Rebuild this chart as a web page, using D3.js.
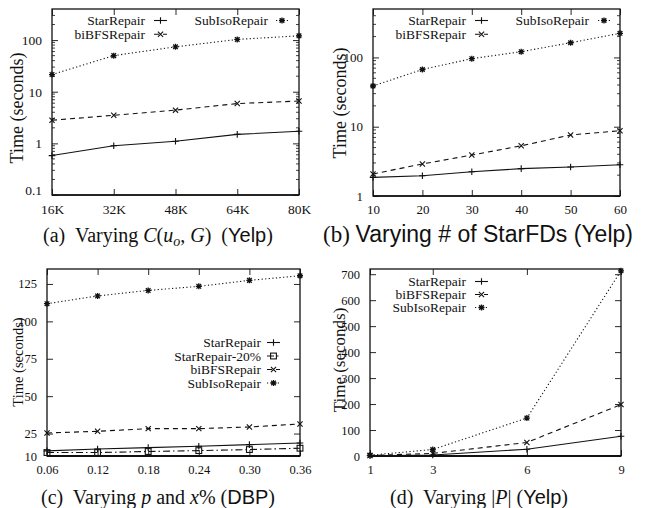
<!DOCTYPE html>
<html><head><meta charset="utf-8">
<script src="https://cdn.jsdelivr.net/npm/d3@7"></script>
<style>body{margin:0;background:#fff}svg{display:block}</style>
</head><body>
<svg id="c" width="647" height="508"></svg>
<script>
// ---------- data ----------
const aX = [16, 32, 48, 64, 80];
const aXLabels = ["16K","32K","48K","64K","80K"];
const aStar = [0.58, 0.9, 1.1, 1.49, 1.72];
const aBiBFS = [2.8, 3.5, 4.4, 5.9, 6.6];
const aSubIso = [21.5, 50, 74, 103, 121];
const aYTicks = [0.1, 1, 10, 100];

const bX = [10, 20, 30, 40, 50, 60];
const bStar = [1.86, 1.96, 2.24, 2.48, 2.62, 2.83];
const bBiBFS = [2.08, 2.9, 3.9, 5.3, 7.6, 8.75];
const bSubIso = [38.7, 67, 96, 121, 163, 223];
const bYTicks = [1, 10, 100];

const cX = [0.06, 0.12, 0.18, 0.24, 0.30, 0.36];
const cXLabels = ["0.06","0.12","0.18","0.24","0.30","0.36"];
const cStar = [13.4, 14.7, 15.6, 16.5, 17.6, 18.7];
const cStar20 = [12.3, 12.3, 13.0, 13.6, 14.3, 15.2];
const cBiBFS = [25.4, 26.5, 28.3, 28.3, 29.4, 31.4];
const cSubIso = [111.8, 117, 120.7, 123.4, 127.4, 130.5];
const cYTicks = [10, 25, 50, 75, 100, 125];

const dX = [1, 3, 6, 9];
const dStar = [1, 4, 26, 76];
const dBiBFS = [2, 10, 52, 198];
const dSubIso = [3, 25, 146, 713];
const dYTicks = [0, 100, 200, 300, 400, 500, 600, 700];

// ---------- drawing ----------
const svg = d3.select("#c");
const SERIF = "'Liberation Serif','Times New Roman',serif";
const SANS = "'Liberation Sans',Arial,sans-serif";
const INK = "#111";

const styles = {
  star:   {dash: null,        marker: "plus"},
  star20: {dash: "7,3,1.5,3", marker: "square"},
  bibfs:  {dash: "5,4",       marker: "cross"},
  subiso: {dash: "1.2,2.4",   marker: "asterisk"}
};

function marker(g, type, x, y) {
  const p = d3.path();
  if (type === "plus") {
    const s = 3.3;
    p.moveTo(x - s, y); p.lineTo(x + s, y);
    p.moveTo(x, y - s); p.lineTo(x, y + s);
  }
  if (type === "cross") {
    const t = 2.6;
    p.moveTo(x - t, y - t); p.lineTo(x + t, y + t);
    p.moveTo(x - t, y + t); p.lineTo(x + t, y - t);
  }
  if (type === "asterisk") {
    const s = 3, t = 2.3;
    p.moveTo(x - s, y); p.lineTo(x + s, y);
    p.moveTo(x, y - s); p.lineTo(x, y + s);
    p.moveTo(x - t, y - t); p.lineTo(x + t, y + t);
    p.moveTo(x - t, y + t); p.lineTo(x + t, y - t);
  }
  if (type === "square") {
    g.append("rect").attr("x", x - 2.9).attr("y", y - 2.9).attr("width", 5.8).attr("height", 5.8)
      .attr("fill", "none").attr("stroke", INK).attr("stroke-width", 1.1);
    return;
  }
  g.append("path").attr("d", p.toString()).attr("stroke", INK).attr("stroke-width", type === "asterisk" ? 1.3 : 1.1).attr("fill", "none");
}

function panel(cfg) {
  const g = svg.append("g");
  const {L, R, T, B} = cfg.box;
  const x = d3.scaleLinear().domain(cfg.xDomain).range([L, R]);
  const y = (cfg.log ? d3.scaleLog() : d3.scaleLinear()).domain(cfg.yDomain).range([B, T]);

  if (cfg.log) {
    const [lo, hi] = cfg.yDomain;
    for (let d = Math.pow(10, Math.floor(Math.log10(lo))); d < hi; d *= 10) {
      for (let k = 2; k <= 9; k++) {
        const v = d * k;
        if (v <= lo || v >= hi) continue;
        const yy = y(v);
        g.append("line").attr("x1", L).attr("x2", L + 3).attr("y1", yy).attr("y2", yy).attr("stroke", INK).attr("stroke-width", 0.8);
        g.append("line").attr("x1", R).attr("x2", R - 3).attr("y1", yy).attr("y2", yy).attr("stroke", INK).attr("stroke-width", 0.8);
      }
    }
  }
  const ya = d3.axisLeft(y).tickValues(cfg.yTicks).tickSize(-6).tickPadding(10)
      .tickFormat(cfg.yFormat || (d => d));
  const yg = g.append("g").attr("transform", `translate(${L},0)`).call(ya);
  const yr = g.append("g").attr("transform", `translate(${R},0)`).call(d3.axisRight(y).tickValues(cfg.yTicks).tickSize(-6).tickFormat(""));
  const xa = d3.axisBottom(x).tickValues(cfg.xTicks).tickSize(-6).tickPadding(9)
      .tickFormat((d, i) => cfg.xLabels[i]);
  const xg = g.append("g").attr("transform", `translate(0,${B})`).call(xa);
  const xt = g.append("g").attr("transform", `translate(0,${T})`).call(d3.axisTop(x).tickValues(cfg.xTicks).tickSize(-6).tickFormat(""));
  [yg, yr, xg, xt].forEach(a => {
    a.select(".domain").remove();
    a.selectAll(".tick line").attr("stroke", INK).attr("stroke-width", 0.9);
    a.selectAll("text").attr("font-family", SERIF).attr("font-size", cfg.tickSize).attr("fill", INK);
  });
  if (cfg.yLabelDy) yg.selectAll("text").filter((d) => d === cfg.yDomain[0]).attr("dy", cfg.yLabelDy);
  g.append("rect").attr("x", L).attr("y", T).attr("width", R - L).attr("height", B - T)
    .attr("fill", "none").attr("stroke", INK).attr("stroke-width", 1.3);
  g.append("line").attr("x1", L).attr("x2", R).attr("y1", B).attr("y2", B).attr("stroke", INK).attr("stroke-width", cfg.bottomW || 1.6);

  const line = d3.line().x(d => x(d[0])).y(d => y(d[1]));
  cfg.series.forEach(s => {
    const pts = cfg.xs.map((v, i) => [v, s.values[i]]);
    const st = styles[s.style];
    g.append("path").attr("d", line(pts)).attr("fill", "none").attr("stroke", INK)
      .attr("stroke-width", 1.1).attr("stroke-dasharray", st.dash);
    pts.forEach(p => marker(g, st.marker, x(p[0]), y(p[1])));
  });

  cfg.legend.forEach(it => {
    const st = styles[it.style];
    g.append("text").attr("x", it.tx).attr("y", it.y).attr("dy", "0.35em").attr("text-anchor", "end")
      .attr("font-family", SERIF).attr("font-size", cfg.legendSize).attr("fill", INK).text(it.label);
    g.append("line").attr("x1", it.sx).attr("x2", it.sx + it.sw).attr("y1", it.y).attr("y2", it.y)
      .attr("stroke", INK).attr("stroke-width", 1.1).attr("stroke-dasharray", st.dash);
    marker(g, st.marker, it.sx + it.sw / 2, it.y);
  });

  g.append("text").attr("transform", `translate(${cfg.yTitle.x},${cfg.yTitle.y}) rotate(-90)`)
    .attr("text-anchor", "middle").attr("dy", "0.35em").attr("font-family", SERIF)
    .attr("font-size", cfg.yTitle.size).attr("fill", INK).text("Time (seconds)");

  const cap = g.append("text").attr("x", cfg.caption.x).attr("y", cfg.caption.y)
    .attr("text-anchor", "middle").attr("font-size", cfg.caption.size).attr("fill", INK)
    .attr("xml:space", "preserve").style("white-space", "pre");
  cfg.caption.parts.forEach(p => {
    const t = cap.append("tspan").text(p.t)
      .attr("font-family", p.f === "sans" ? SANS : SERIF)
      .attr("font-style", p.i ? "italic" : "normal");
    if (p.sub) t.attr("font-size", cfg.caption.size * 0.7).attr("dy", 4);
    if (p.up) t.attr("dy", -4);
  });
}

panel({
  box: {L: 52, R: 299, T: 9, B: 195}, log: true, yDomain: [0.1, 400], yTicks: aYTicks,
  xDomain: [16, 80], xTicks: aX, xLabels: aXLabels, xs: aX, tickSize: 13.5, legendSize: 13.5,
  yLabelDy: "-0.05em",
  series: [{values: aStar, style: "star"}, {values: aBiBFS, style: "bibfs"}, {values: aSubIso, style: "subiso"}],
  legend: [
    {label: "StarRepair", style: "star", tx: 145, sx: 154, sw: 13, y: 20.5},
    {label: "biBFSRepair", style: "bibfs", tx: 145, sx: 154, sw: 13, y: 34.3},
    {label: "SubIsoRepair", style: "subiso", tx: 268, sx: 276, sw: 12, y: 20.5}
  ],
  yTitle: {x: 17, y: 108, size: 18},
  caption: {x: 158, y: 242, size: 20, parts: [
    {t: "(a)  Varying "}, {t: "C", i: true}, {t: "(", i: false}, {t: "u", i: true},
    {t: "o", i: true, sub: true}, {t: ", ", up: true}, {t: "G", i: true}, {t: ")  ("}, {t: "Yelp", f: "sans"}, {t: ")"}
  ]}
});

panel({
  box: {L: 373, R: 620, T: 9, B: 196}, log: true, yDomain: [1, 500], yTicks: bYTicks,
  xDomain: [10, 60], xTicks: bX, xLabels: bX.map(String), xs: bX, tickSize: 13, legendSize: 13.5,
  series: [{values: bStar, style: "star"}, {values: bBiBFS, style: "bibfs"}, {values: bSubIso, style: "subiso"}],
  legend: [
    {label: "StarRepair", style: "star", tx: 466, sx: 475, sw: 13, y: 20.5},
    {label: "biBFSRepair", style: "bibfs", tx: 466, sx: 475, sw: 13, y: 34.3},
    {label: "SubIsoRepair", style: "subiso", tx: 589, sx: 598, sw: 12, y: 20.5}
  ],
  yTitle: {x: 340, y: 103, size: 18},
  caption: {x: 478, y: 242, size: 23, parts: [
    {t: "(b) "}, {t: "Varying # of StarFDs (Yelp)", f: "sans"}
  ]}
});

panel({
  box: {L: 47, R: 300, T: 269, B: 456}, log: false, yDomain: [10, 135], yTicks: cYTicks,
  xDomain: [0.06, 0.36], xTicks: cX, xLabels: cXLabels, xs: cX, tickSize: 12.5, legendSize: 13.5,
  bottomW: 2.2,
  series: [{values: cStar, style: "star"}, {values: cStar20, style: "star20"}, {values: cBiBFS, style: "bibfs"}, {values: cSubIso, style: "subiso"}],
  legend: [
    {label: "StarRepair", style: "star", tx: 261, sx: 267, sw: 13, y: 342.5},
    {label: "StarRepair-20%", style: "star20", tx: 261, sx: 267, sw: 13, y: 356},
    {label: "biBFSRepair", style: "bibfs", tx: 261, sx: 267, sw: 13, y: 369.5},
    {label: "SubIsoRepair", style: "subiso", tx: 261, sx: 267, sw: 13, y: 383}
  ],
  yTitle: {x: 18, y: 362, size: 14.5},
  caption: {x: 158, y: 504, size: 20, parts: [
    {t: "(c)  Varying "}, {t: "p", i: true}, {t: " and "}, {t: "x", i: true}, {t: "% ("}, {t: "DBP", f: "sans"}, {t: ")"}
  ]}
});

panel({
  box: {L: 370, R: 621, T: 269, B: 456}, log: false, yDomain: [0, 720], yTicks: dYTicks,
  xDomain: [1, 9], xTicks: dX, xLabels: dX.map(String), xs: dX, tickSize: 12.5, legendSize: 13.5,
  bottomW: 2.2,
  series: [{values: dStar, style: "star"}, {values: dBiBFS, style: "bibfs"}, {values: dSubIso, style: "subiso"}],
  legend: [
    {label: "StarRepair", style: "star", tx: 466, sx: 475, sw: 13, y: 281.5},
    {label: "biBFSRepair", style: "bibfs", tx: 466, sx: 475, sw: 13, y: 294.5},
    {label: "SubIsoRepair", style: "subiso", tx: 466, sx: 475, sw: 13, y: 307.5}
  ],
  yTitle: {x: 339, y: 360, size: 17},
  caption: {x: 479, y: 504, size: 20, parts: [
    {t: "(d)  Varying |"}, {t: "P", i: true}, {t: "| ("}, {t: "Yelp", f: "sans"}, {t: ")"}
  ]}
});
</script>
</body></html>
